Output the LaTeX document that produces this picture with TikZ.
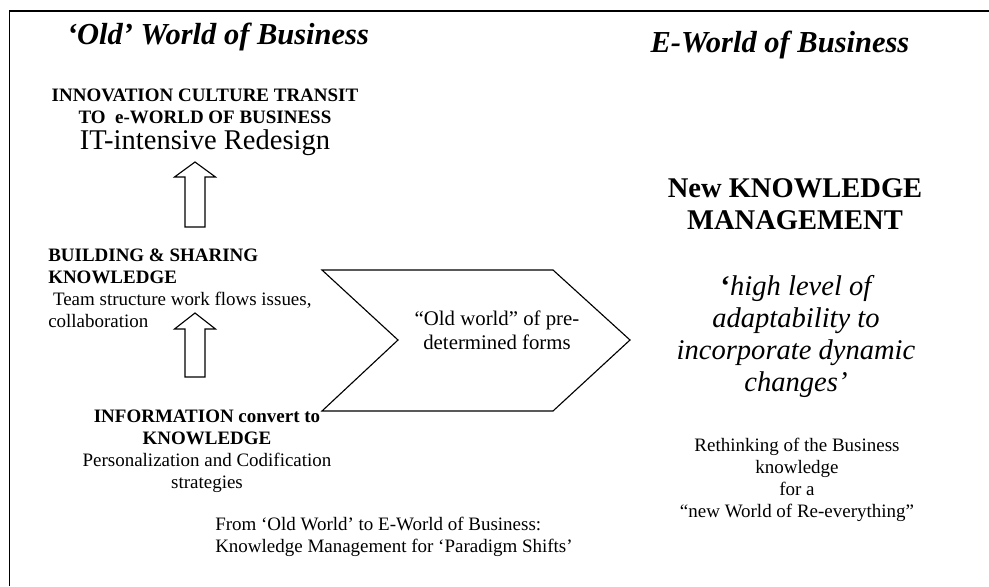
\documentclass[tikz,border=0pt]{standalone}
\usepackage{fontspec}
\setmainfont{Liberation Serif}
\usetikzlibrary{calc}

\tikzset{
    txt/.style={inner sep=0pt, font=\fontsize{13.5}{15.6}\selectfont},
    txtbig/.style={inner sep=0pt, font=\fontsize{20.3}{22.8}\selectfont},
    worldtitle/.style={inner sep=0pt, font=\fontsize{21.7}{25}\selectfont\bfseries\itshape},
}

\begin{document}
\begin{tikzpicture}[]
                \useasboundingbox (0,0) rectangle (24.725,-14.65);

                % frame (only top and left edges show)
                \draw[very thick] (0.24,-14.65) |- (24.725,-0.275);

                \node[worldtitle] (oldworld) at (5.45,-0.925) {‘Old’ World of Business};
                \node[worldtitle] (eworld) at (19.5,-1.125) {E-World of Business};

                % left column
                \node[txt, align=center, font=\fontsize{13.5}{15.6}\selectfont\bfseries] (innov) at (5.125,-2.6625) {INNOVATION CULTURE TRANSIT\\TO~ e-WORLD OF BUSINESS};
                \node[txtbig] (redesign) at (5.125,-3.575) {IT-intensive Redesign};

                \node[txt, align=left, anchor=west] (building) at (1.2,-7.2125) {\textbf{BUILDING \& SHARING}\\\textbf{KNOWLEDGE}\\\ Team structure work flows issues,\\collaboration};

                \node[txt, align=center] (info) at (5.175,-11.2875) {\textbf{INFORMATION convert to}\\\textbf{KNOWLEDGE}\\Personalization and Codification\\strategies};

                \node[txt, align=left, anchor=west] (caption) at (5.375,-13.425) {From ‘Old World’ to E-World of Business:\\Knowledge Management for ‘Paradigm Shifts’};

                % block arrows
                \draw[thick] (4.875,-5.675) coordinate (uparrow) -- ++ (0.25,0) -- ++ (0,1.25) -- ++ (0.2625,0) -- ++ (-0.5125,0.375) -- ++ (-0.5125,-0.375) -- ++ (0.2625,0) -- ++ (0,-1.25) -- cycle;
                \draw[thick] (4.875,-9.425) coordinate (lowarrow) -- ++ (0.25,0) -- ++ (0,1.2) -- ++ (0.2625,0) -- ++ (-0.5125,0.4) -- ++ (-0.5125,-0.4) -- ++ (0.2625,0) -- ++ (0,-1.2) -- cycle;

                % chevron
                \draw[thick] (8.05,-6.75) -- (13.825,-6.75) -- (15.75,-8.5) -- (13.825,-10.275) -- (8.05,-10.275) -- (9.95,-8.5) -- cycle;
                \node[inner sep=0pt, align=center, font=\fontsize{14.8}{17}\selectfont] (oldforms) at (12.425,-8.25) {“Old world” of pre-\\determined forms};

                % right column
                \node[txtbig, align=center, font=\fontsize{20.3}{22.8}\selectfont\bfseries] (newkm) at (19.875,-5.1) {New KNOWLEDGE\\MANAGEMENT};
                \node[txtbig, align=center, font=\fontsize{20.3}{22.8}\selectfont\itshape] (adapt) at (19.9,-8.4125) {\textbf{\upshape ‘}high level of\\adaptability to\\incorporate dynamic\\changes’};
                \node[txt, align=center] (rethink) at (19.925,-11.9875) {Rethinking of the Business\\knowledge\\for a\\“new World of Re-everything”};

\end{tikzpicture}
\end{document}
